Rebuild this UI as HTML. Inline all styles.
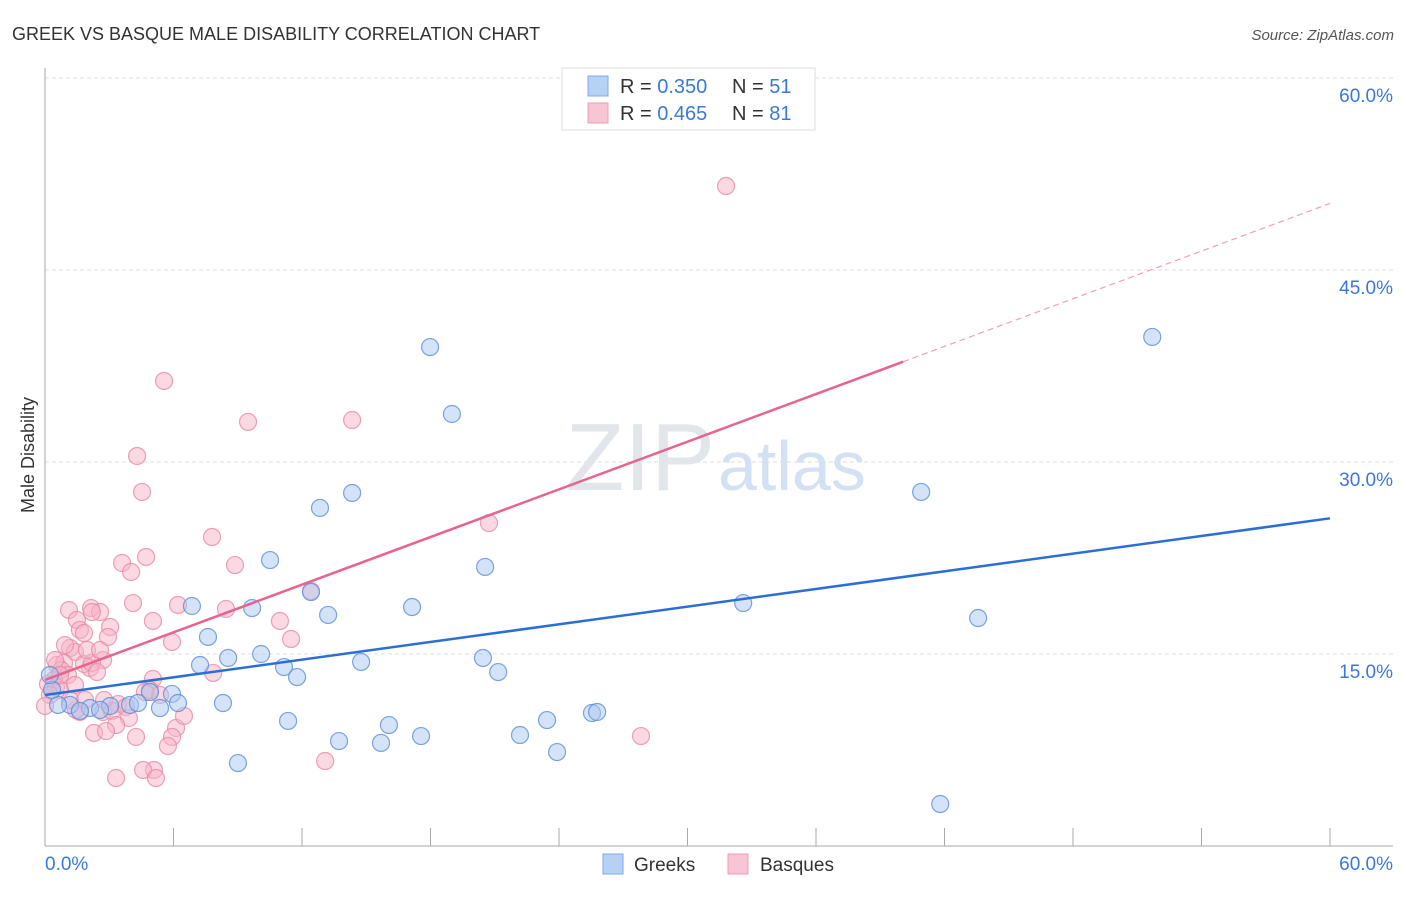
<!DOCTYPE html>
<html><head><meta charset="utf-8"><style>
body{margin:0;background:#fff;font-family:"Liberation Sans",sans-serif}
svg text{font-family:"Liberation Sans",sans-serif}
</style></head><body>
<svg id="chart" width="1406" height="892">
<text x="12" y="40" font-size="18" fill="#333">GREEK VS BASQUE MALE DISABILITY CORRELATION CHART</text>
<text x="1394" y="40" font-size="15" fill="#555" font-style="italic" text-anchor="end">Source: ZipAtlas.com</text>
<text x="34" y="455" font-size="18" fill="#333" transform="rotate(-90 34 455)" text-anchor="middle">Male Disability</text>
<g id="grid"></g>
<text x="715" y="490" font-size="96" fill="#e2e5ea" text-anchor="end" font-family="Liberation Serif">ZIP</text>
<text x="718" y="490" font-size="70" fill="#d3e1f4">atlas</text>
<g id="marks"></g>
<g id="lines"></g>
<g>
<rect x="562" y="68" width="253" height="62" fill="#fff" stroke="#ddd"/>
<rect x="588" y="76" width="20" height="20" fill="#b7d1f4" stroke="#7eaae6"/>
<rect x="588" y="103" width="20" height="20" fill="#f8c5d4" stroke="#ee9cb6"/>
<text x="620" y="93" font-size="20" fill="#333">R = <tspan fill="#3b78d8">0.350</tspan></text>
<text x="732" y="93" font-size="20" fill="#333">N = <tspan fill="#3b78d8">51</tspan></text>
<text x="620" y="120" font-size="20" fill="#333">R = <tspan fill="#3b78d8">0.465</tspan></text>
<text x="732" y="120" font-size="20" fill="#333">N = <tspan fill="#3b78d8">81</tspan></text>
</g>
<g>
<rect x="603" y="854" width="20" height="20" fill="#b7d1f4" stroke="#7eaae6"/>
<text x="634" y="871" font-size="19" fill="#333">Greeks</text>
<rect x="728" y="854" width="20" height="20" fill="#f8c5d4" stroke="#ee9cb6"/>
<text x="760" y="871" font-size="19" fill="#333">Basques</text>
</g>
</svg>
<script>
const yTicks=[15,30,45,60];
const yTickLabels=["15.0%","30.0%","45.0%","60.0%"];
const xTicks=[0,6,12,18,24,30,36,42,48,54,60];
const greeksX=[17.98,19.0,12.84,14.34,10.51,20.55,12.42,6.86,9.67,13.22,17.14,7.61,10.09,8.55,7.24,11.16,11.77,14.76,20.45,21.16,4.9,5.93,6.21,5.37,8.31,3.04,3.97,4.34,2.1,1.17,0.61,2.57,1.63,0.33,0.23,11.35,16.06,22.18,23.44,17.56,13.73,15.69,23.91,9.01,25.54,25.78,32.6,40.91,43.57,51.7,41.8];
const greeksY=[38.98,33.75,26.41,27.58,22.34,21.8,19.84,18.75,18.59,18.05,18.67,16.33,15.0,14.69,14.14,13.98,13.2,14.38,14.69,13.59,12.03,11.88,11.17,10.78,11.17,10.94,11.02,11.17,10.78,11.02,11.02,10.63,10.55,12.19,13.36,9.77,9.45,8.67,9.84,8.59,8.2,8.05,7.34,6.48,10.39,10.47,18.98,27.66,17.81,39.77,3.28];
const basquesX=[31.8,5.56,9.48,14.34,4.3,4.53,20.73,7.8,4.72,3.6,4.02,8.87,12.42,4.11,6.21,8.45,1.12,2.15,2.57,1.49,5.04,3.04,1.63,2.94,1.82,10.97,11.49,5.93,1.17,1.4,0.56,0.89,2.71,2.1,1.82,2.19,2.43,0.75,1.07,0.42,0.14,0.51,1.4,0.7,0.23,0,7.85,5.04,4.9,5.37,4.67,3.41,2.71,3.13,3.78,1.63,1.45,3.92,3.32,2.29,2.85,4.25,6.12,5.93,6.49,5.74,5.09,4.58,3.32,5.18,13.08,27.83,1.96,0.47,0.93,2.19,2.57,0.7,1.17,1.87,2.76];
const basquesY=[51.56,36.33,33.13,33.28,30.47,27.66,25.23,24.14,22.58,22.11,21.41,21.95,19.92,18.98,18.83,18.52,18.44,18.59,18.28,17.66,17.58,17.11,16.88,16.33,16.64,17.58,16.17,15.94,15.47,15.16,14.14,14.3,14.53,13.91,14.22,14.3,13.59,13.75,13.36,12.97,12.66,12.42,12.58,12.19,11.8,10.94,13.52,13.05,12.19,11.8,12.03,11.09,10.47,10.55,10.86,10.47,10.63,10.0,9.45,8.83,8.98,8.52,9.22,8.52,10.16,7.81,5.94,5.94,5.31,5.31,6.64,8.59,15.31,14.53,15.7,18.28,15.31,13.36,11.41,11.41,11.41];
const greeksTrend=[11.8,25.6];   // y at x=0, x=60
const basquesTrend=[12.97,50.2]; // y at x=0, x=60
const basquesSolidEnd=40.07;

const NS="http://www.w3.org/2000/svg";
const sx=v=>45+v/60*1285;
const sy=v=>846-v/15*192;
function mk(tag,attrs,parent){const e=document.createElementNS(NS,tag);for(const k in attrs)e.setAttribute(k,attrs[k]);parent.appendChild(e);return e;}
const grid=document.getElementById('grid'),marks=document.getElementById('marks'),lines=document.getElementById('lines');
yTicks.forEach((t,i)=>{
 const l=mk('line',{x1:45,x2:1393,y1:sy(t),y2:sy(t),stroke:'#ddd','stroke-dasharray':'4,3'},grid);
 
 
 const tx=mk('text',{x:1393,y:sy(t)+24,'font-size':19,fill:'#3b78d8','text-anchor':'end'},grid);
 tx.textContent=yTickLabels[i];
 
 
});
const ax=mk('line',{x1:45,x2:45,y1:68,y2:846,stroke:'#aaa'},grid);


const bx=mk('line',{x1:45,x2:1393,y1:846,y2:846,stroke:'#aaa'},grid);


xTicks.forEach(t=>{
 const l=mk('line',{x1:sx(t),x2:sx(t),y1:828,y2:846,stroke:'#aaa'},grid);
 
 
});
const xl0=mk('text',{x:45,y:870,'font-size':19,fill:'#3b78d8'},grid);xl0.textContent='0.0%';


const xl1=mk('text',{x:1393,y:870,'font-size':19,fill:'#3b78d8','text-anchor':'end'},grid);xl1.textContent='60.0%';


function pts(X,Y,fill,stroke,name){
 X.forEach((x,i)=>{
  const c=mk('circle',{cx:sx(x),cy:sy(Y[i]),r:8.5,fill:fill,'fill-opacity':0.5,stroke:stroke,'stroke-width':1.2,'stroke-opacity':0.8},marks);
  
  
 });
}
pts(basquesX,basquesY,'#f6b3c8','#e889a8','basques-point');
pts(greeksX,greeksY,'#a9c8f0','#5b8fd8','greeks-point');
const ty=(tr,x)=>tr[0]+(tr[1]-tr[0])*x/60;
const g1=mk('line',{x1:sx(0),y1:sy(greeksTrend[0]),x2:sx(60),y2:sy(greeksTrend[1]),stroke:'#2b6fd6','stroke-width':2.5},lines);


const p1=mk('line',{x1:sx(0),y1:sy(basquesTrend[0]),x2:sx(basquesSolidEnd),y2:sy(ty(basquesTrend,basquesSolidEnd)),stroke:'#e8638f','stroke-width':2.5},lines);


const p2=mk('line',{x1:sx(basquesSolidEnd),y1:sy(ty(basquesTrend,basquesSolidEnd)),x2:sx(60),y2:sy(basquesTrend[1]),stroke:'#eea0b8','stroke-width':1.2,'stroke-dasharray':'6,4'},lines);


</script>
</body></html>
